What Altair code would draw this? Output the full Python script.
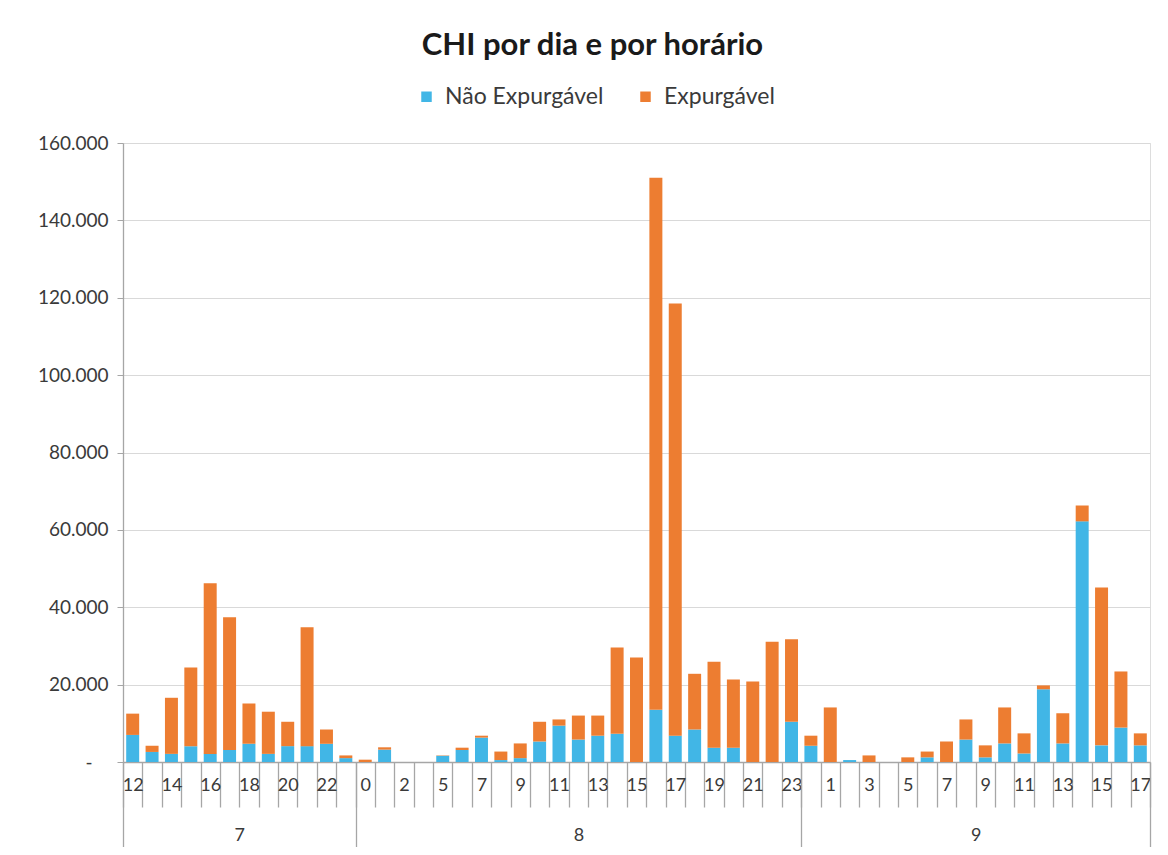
import json
import pandas as pd
import altair as alt

# ---------------- data ----------------
days = ["7", "8", "9"]
hours_d7 = [12, 13, 14, 15, 16, 17, 18, 19, 20, 21, 22, 23]
hours_d8 = [0, 1, 2, 3, 5, 6, 7, 8, 9, 10, 11, 12, 13, 14, 15, 16, 17, 18, 19, 20, 21, 22, 23]
hours_d9 = [0, 1, 2, 3, 4, 5, 6, 7, 8, 9, 10, 11, 12, 13, 14, 15, 16, 17]

nao_d7 = [7000, 2600, 2100, 4100, 2100, 3100, 4700, 2100, 4100, 4100, 4700, 1000]
exp_d7 = [5500, 1600, 14500, 20300, 44100, 34300, 10400, 10900, 6300, 30700, 3700, 700]

nao_d8 = [0, 3200, 0, 0, 1600, 3100, 6300, 500, 1000, 5300, 9400, 5800, 6800, 7300,
          0, 13500, 6800, 8400, 3700, 3700, 0, 0, 10400]
exp_d8 = [600, 600, 0, 0, 100, 600, 500, 2200, 3800, 5100, 1600, 6200, 5200, 22300,
          27000, 137500, 111700, 14400, 22200, 17600, 20800, 31100, 21300]

nao_d9 = [4200, 0, 500, 0, 0, 0, 1200, 0, 5800, 1200, 4800, 2200, 18800, 4800,
          62200, 4300, 8900, 4300]
exp_d9 = [2600, 14100, 0, 1700, 0, 1200, 1500, 5300, 5200, 3100, 9300, 5200, 1000, 7800,
          4100, 40800, 14500, 3100]

series = ["Não Expurgável", "Expurgável"]
colors = ["#41B6E6", "#ED7D31"]
y_ticks = [0, 20000, 40000, 60000, 80000, 100000, 120000, 140000, 160000]

# ---------------- build tables ----------------
hours_by_day = [hours_d7, hours_d8, hours_d9]
nao = nao_d7 + nao_d8 + nao_d9
exp = exp_d7 + exp_d8 + exp_d9
hour_labels = [str(h) for hs in hours_by_day for h in hs]
day_of_cat = [d for d, hs in zip(days, hours_by_day) for _ in hs]
n = len(hour_labels)

rows = []
for i, (a, b) in enumerate(zip(nao, exp)):
    rows.append({"idx": i, "lo": 0, "hi": a, "serie": series[0]})
    rows.append({"idx": i, "lo": a, "hi": a + b, "serie": series[1]})
bars_df = pd.DataFrame(rows)

# day boundaries and centers
bounds = [0]
for hs in hours_by_day:
    bounds.append(bounds[-1] + len(hs))
day_centers = [(bounds[k] + bounds[k + 1]) / 2 for k in range(len(days))]

W, H = 1027, 619
GRAY = "#a6a6a6"
TXT = "#3a3a3a"
FONT = "Lato"
PAD = 0.165
AX_FS = 19
CAT_FS = 18

xscale = alt.Scale(domain=[0, n], nice=False, zero=False)
yscale = alt.Scale(domain=[0, 160000], nice=False)

bars = alt.Chart(bars_df).transform_calculate(
    x0=f"datum.idx + {PAD}", x1=f"datum.idx + 1 - {PAD}"
).mark_bar().encode(
    x=alt.X("x0:Q", scale=xscale, axis=alt.Axis(
        orient="bottom", values=list(range(n + 1)), labels=False, tickSize=45,
        tickColor=GRAY, tickWidth=1.3, domainColor=GRAY, domainWidth=1.3, grid=False, title=None)),
    x2="x1:Q",
    y=alt.Y("lo:Q", scale=yscale, axis=alt.Axis(
        orient="left", values=y_ticks, title=None, grid=True, gridColor="#d9d9d9", gridWidth=1.2,
        domainColor=GRAY, domainWidth=1.3, tickColor=GRAY, tickSize=6, labelPadding=9,
        labelFontSize=AX_FS, labelColor=TXT, labelFont=FONT,
        labelExpr="datum.value == 0 ? '' : format(datum.value/1000, '.3f')")),
    y2="hi:Q",
    color=alt.Color("serie:N", scale=alt.Scale(domain=series, range=colors), legend=alt.Legend(
        orient="none", legendX=292, legendY=-58, direction="horizontal", title=None,
        symbolType="square", symbolSize=110, symbolStrokeWidth=0, labelFontSize=23,
        labelFont=FONT, labelColor=TXT, columnPadding=30, padding=0, labelOffset=7)),
)

# zero label of the value axis ("-"), placed like the spreadsheet's accounting format
zero_df = pd.DataFrame({"v": [0]})
zero_layer = alt.Chart(zero_df).mark_point(opacity=0).encode(
    y=alt.Y("v:Q", scale=yscale, axis=alt.Axis(
        orient="left", values=[0], ticks=False, tickSize=0, domain=False, grid=False,
        title=None, labelPadding=31, labelFontSize=AX_FS, labelColor=TXT, labelFont=FONT,
        labelExpr="'-'")),
    x=alt.value(0),
)

hour_df = pd.DataFrame({"pos": [i + 0.5 for i in range(0, n, 2)]})
hour_axis_layer = alt.Chart(hour_df).mark_point(opacity=0).encode(
    x=alt.X("pos:Q", scale=xscale, axis=alt.Axis(
        orient="bottom", values=list(hour_df["pos"]), ticks=False, tickSize=0, domain=False,
        grid=False, title=None, labelPadding=23, labelBaseline="middle", labelFontSize=CAT_FS,
        labelColor=TXT, labelFont=FONT, labelAngle=0,
        labelExpr=f"{json.dumps(hour_labels)}[floor(datum.value)]")),
    y=alt.value(0),
)

bound_df = pd.DataFrame({"pos": bounds})
day_tick_layer = alt.Chart(bound_df).mark_point(opacity=0).encode(
    x=alt.X("pos:Q", scale=xscale, axis=alt.Axis(
        orient="bottom", values=bounds, labels=False, tickSize=88, tickColor=GRAY,
        tickWidth=1.3, domain=False, grid=False, title=None)),
    y=alt.value(0),
)

center_df = pd.DataFrame({"pos": day_centers})
day_label_layer = alt.Chart(center_df).mark_point(opacity=0).encode(
    x=alt.X("pos:Q", scale=xscale, axis=alt.Axis(
        orient="bottom", values=day_centers, ticks=False, tickSize=0, domain=False,
        grid=False, title=None, labelPadding=73, labelBaseline="middle", labelFontSize=CAT_FS,
        labelColor=TXT, labelFont=FONT, labelAngle=0,
        labelExpr=f"{json.dumps(day_of_cat)}[floor(datum.value)]")),
    y=alt.value(0),
)

chart = alt.layer(bars, zero_layer, hour_axis_layer, day_tick_layer, day_label_layer).resolve_axis(
    x="independent", y="independent"
).properties(
    width=W, height=H,
    autosize=alt.AutoSizeParams(type="none"),
    padding={"left": 115, "top": 135, "right": 10, "bottom": 85},
    title=alt.TitleParams("CHI por dia e por horário", fontSize=31, fontWeight="bold",
                          font=FONT, color="#1a1a1a", anchor="middle", dx=-44, offset=23),
).configure_view(stroke="#d9d9d9").configure(font=FONT, background="white")

chart.save("out.html", embed_options={"renderer": "svg", "actions": False})
